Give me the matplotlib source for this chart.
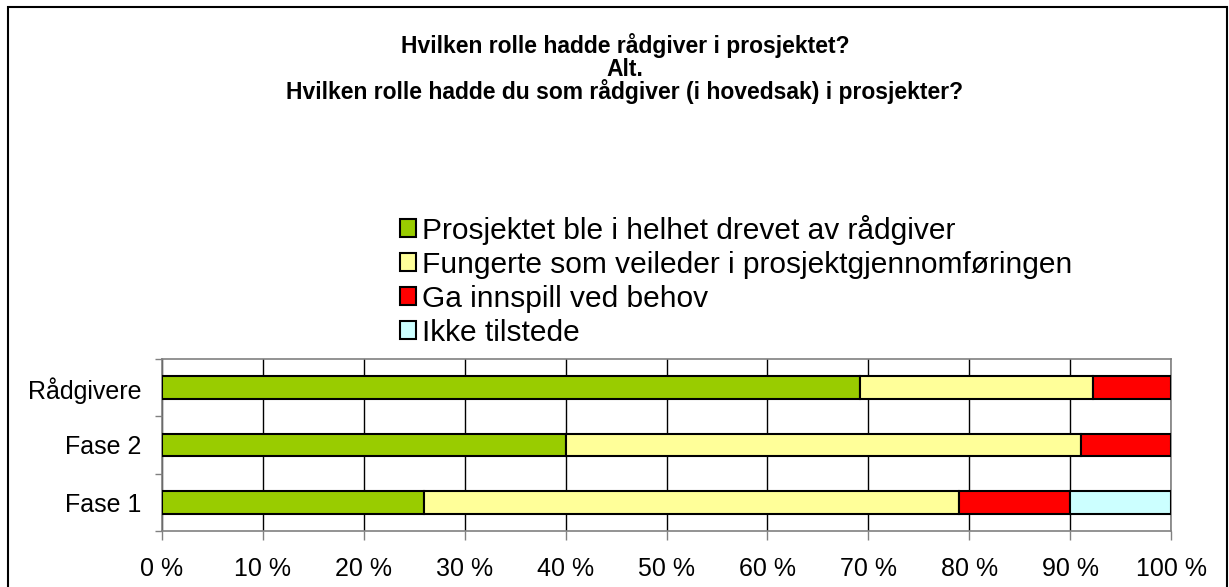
import matplotlib.pyplot as plt
import matplotlib.patches as patches
import numpy as np

plt.rcParams['font.family'] = ['Liberation Sans', 'DejaVu Sans']

# --- Data ---
categories = ['Fase 1', 'Fase 2', 'Rådgivere']
series_names = [
    'Prosjektet ble i helhet drevet av rådgiver',
    'Fungerte som veileder i prosjektgjennomføringen',
    'Ga innspill ved behov',
    'Ikke tilstede',
]
drevet = [26.0, 40.0, 69.2]
veileder = [53.0, 51.1, 23.1]
innspill = [11.0, 8.9, 7.7]
ikke_tilstede = [10.0, 0.0, 0.0]
tick_labels = [f'{v} %' for v in range(0, 101, 10)]
title_lines = [
    'Hvilken rolle hadde rådgiver i prosjektet?',
    'Alt.',
    'Hvilken rolle hadde du som rådgiver (i hovedsak) i prosjekter?',
]

colors = ['#99CC00', '#FFFF99', '#FF0000', '#CCFFFF']

W, H = 1229, 587
fig = plt.figure(figsize=(W / 100, H / 100), dpi=100)
ax = fig.add_axes([162 / W, 1 - 531 / H, 1009 / W, 172 / H])

y = np.arange(len(categories))
left = np.zeros(len(categories))
handles = []
for vals, col, name in zip([drevet, veileder, innspill, ikke_tilstede], colors, series_names):
    vals = np.array(vals)
    mask = vals > 0
    ax.barh(y[mask], vals[mask], left=left[mask], height=0.4, color=col,
            edgecolor='black', linewidth=1.5, zorder=3)
    handles.append(patches.Patch(facecolor=col, edgecolor='black', linewidth=1.5, label=name))
    left += vals

ax.set_xlim(0, 100)
ax.set_ylim(-0.5, len(categories) - 0.5)
ax.set_xticks(np.arange(0, 101, 10))
ax.set_xticklabels(tick_labels, fontsize=18)
ax.set_yticks(y)
ax.set_yticklabels(categories, fontsize=18)
ax.set_yticks(np.arange(-0.5, len(categories), 1), minor=True)
ax.tick_params(axis='y', which='major', length=0, pad=15)
ax.tick_params(axis='y', which='minor', length=5, color='#808080', width=1)
ax.tick_params(axis='x', length=6.5, color='#808080', width=1, pad=12, direction='out')
ax.grid(axis='x', color='black', linewidth=1, zorder=0)
ax.set_axisbelow(True)
for s in ax.spines.values():
    s.set_color('#808080')
    s.set_linewidth(1.2)

# Title
for i, line in enumerate(title_lines):
    fig.text(625 / W, 1 - (46 + 23 * i) / H, line, ha='center', va='center',
             fontsize=16.5, fontweight='bold')

# Legend
fig.legend(handles=handles, loc='upper left', bbox_to_anchor=(400 / W, 1 - 215 / H),
           frameon=False, fontsize=21.5, handlelength=0.55, handleheight=0.55,
           handletextpad=0.2, labelspacing=0.2, borderaxespad=0, borderpad=0)

# Outer chart frame
fig.patches.append(patches.Rectangle((8 / W, -0.05), 1219 / W, 1.05 - 7 / H,
                                     transform=fig.transFigure, fill=False,
                                     edgecolor='black', linewidth=1.5))

fig.savefig('out.png', dpi=100)
